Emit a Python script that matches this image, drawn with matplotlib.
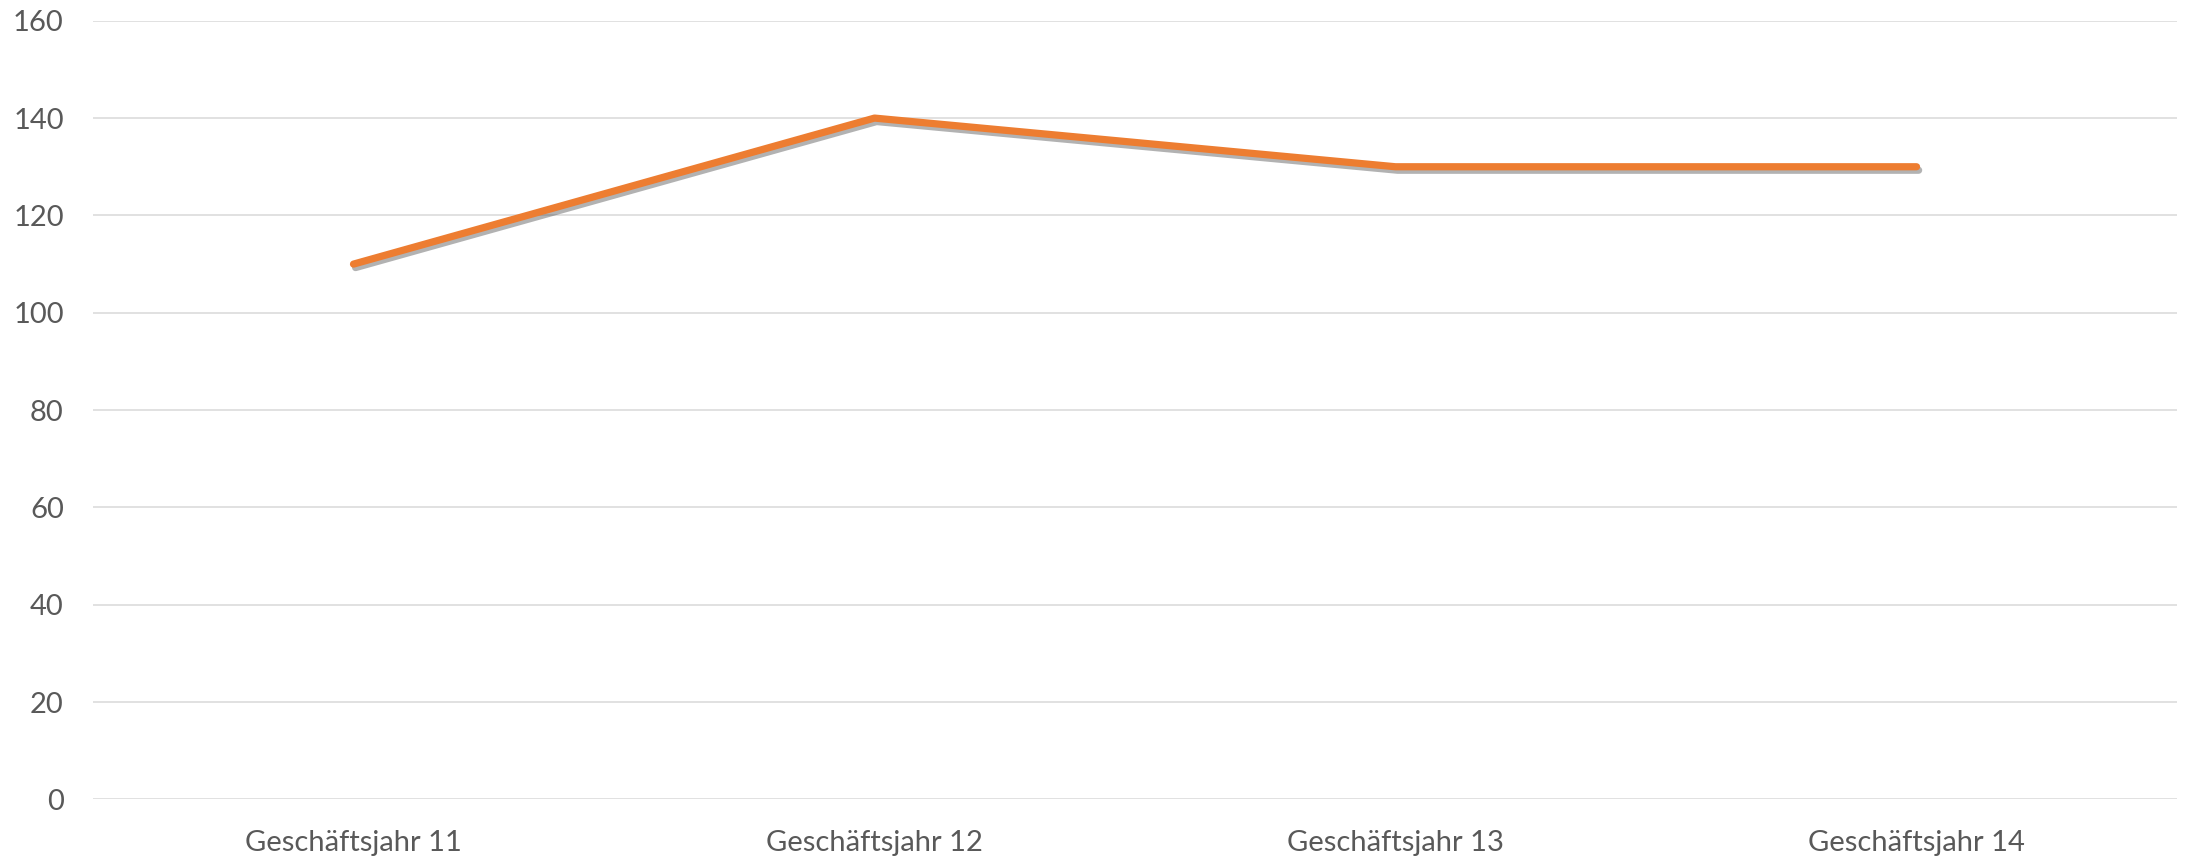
import matplotlib
matplotlib.use("Agg")
from matplotlib import pyplot as plt
from matplotlib import patheffects as pe

# data
years = ["Geschäftsjahr 11", "Geschäftsjahr 12", "Geschäftsjahr 13", "Geschäftsjahr 14"]
values = [110, 140, 130, 130]
y_ticks = [0, 20, 40, 60, 80, 100, 120, 140, 160]

plt.rcParams['font.family'] = ['Lato', 'DejaVu Sans']

fig = plt.figure(figsize=(21.88, 8.57), dpi=100)
ax = fig.add_axes([0.0425, 0.0671, 0.9525, 0.9087])

x = list(range(len(years)))
ax.plot(x, values, color='#ED7D31', linewidth=5.2, solid_capstyle='round',
        solid_joinstyle='round', zorder=3,
        path_effects=[pe.SimpleLineShadow(offset=(1.5, -2.5), shadow_color='#404040', alpha=0.4),
                      pe.Normal()])

ax.set_xlim(-0.5, len(years) - 0.5)
ax.set_ylim(0, 160)
ax.set_yticks(y_ticks)
ax.set_xticks(x)
ax.set_xticklabels(years)
ax.grid(axis='y', color='#D9D9D9', linewidth=1.1)
ax.set_axisbelow(True)
for s in ax.spines.values():
    s.set_visible(False)
ax.tick_params(axis='both', length=0, labelsize=21, labelcolor='#595959')
ax.tick_params(axis='y', pad=21)
ax.tick_params(axis='x', pad=22)

fig.savefig('out.png', dpi=100)
